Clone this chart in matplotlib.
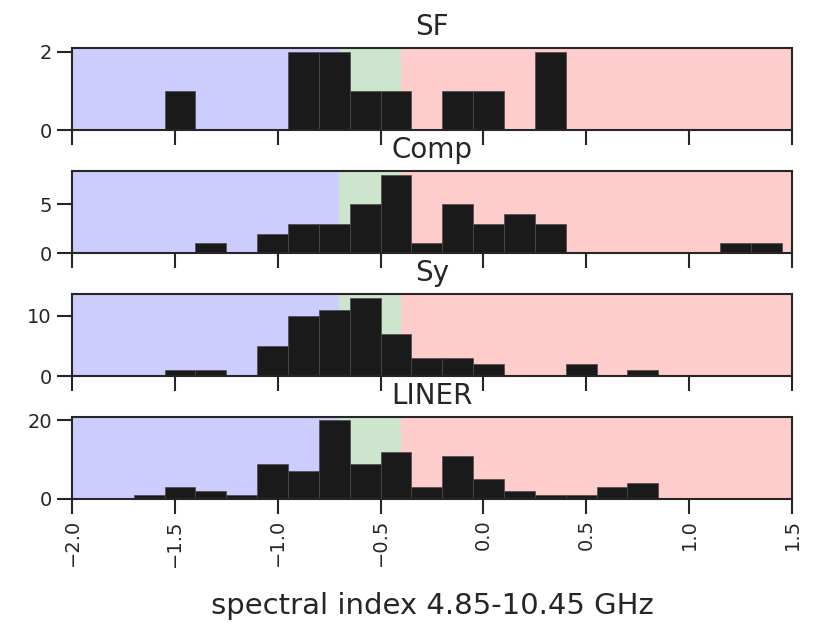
import matplotlib

matplotlib.use("Agg")
import matplotlib.pyplot as plt
import numpy as np

# histogram bin edges, width 0.15
BIN_EDGES = [-2.0, -1.85, -1.7, -1.55, -1.4, -1.25, -1.1, -0.95, -0.8, -0.65, -0.5,
             -0.35, -0.2, -0.05, 0.1, 0.25, 0.4, 0.55, 0.7, 0.85, 1.0, 1.15, 1.3, 1.45]

CLASSES = ["SF", "Comp", "Sy", "LINER"]
SF_COUNTS = [0, 0, 0, 1, 0, 0, 0, 2, 2, 1, 1, 0, 1, 1, 0, 2, 0, 0, 0, 0, 0, 0, 0]
COMP_COUNTS = [0, 0, 0, 0, 1, 0, 2, 3, 3, 5, 8, 1, 5, 3, 4, 3, 0, 0, 0, 0, 0, 1, 1]
SY_COUNTS = [0, 0, 0, 1, 1, 0, 5, 10, 11, 13, 7, 3, 3, 2, 0, 0, 2, 0, 1, 0, 0, 0, 0]
LINER_COUNTS = [0, 0, 1, 3, 2, 1, 9, 7, 20, 9, 12, 3, 11, 5, 2, 1, 1, 3, 4, 0, 0, 0, 0]
YTICKS = [[0, 2], [0, 5], [0, 10], [0, 20]]

# spectral-index regimes shaded behind the bars
REGIONS = [(-2.0, -0.7, "blue"), (-0.7, -0.4, "green"), (-0.4, 1.5, "red")]
XTICKS = [-2.0, -1.5, -1.0, -0.5, 0.0, 0.5, 1.0, 1.5]

plt.rcParams.update({
    "font.family": "DejaVu Sans",
    "text.color": ".15",
    "axes.labelcolor": ".15",
    "xtick.color": ".15",
    "ytick.color": ".15",
    "axes.edgecolor": ".15",
    "axes.linewidth": 1.5,
})

fig, axes = plt.subplots(4, 1, figsize=(8.25, 6.34), dpi=100, sharex=True)
fig.subplots_adjust(left=0.0873, right=0.96, top=0.9243, bottom=0.213, hspace=0.49)

edges = np.array(BIN_EDGES)
centers = 0.5 * (edges[:-1] + edges[1:])

for ax, name, counts, yt in zip(
    axes, CLASSES, [SF_COUNTS, COMP_COUNTS, SY_COUNTS, LINER_COUNTS], YTICKS
):
    for x0, x1, c in REGIONS:
        ax.axvspan(x0, x1, color=c, alpha=0.2, linewidth=0, zorder=0)
    ax.hist(centers, bins=edges, weights=counts, color="#1a1a1a",
            edgecolor="#4a4a4a", linewidth=0.5, zorder=2)
    ax.set_title(name, fontsize=20, pad=9)
    ax.set_yticks(yt)
    ax.set_xlim(-2.0, 1.5)
    ax.tick_params(axis="both", direction="out", length=11, width=1.5, labelsize=14)

axes[-1].set_xticks(XTICKS)
axes[-1].tick_params(axis="x", labelrotation=90)
axes[-1].set_xlabel("spectral index 4.85-10.45 GHz", fontsize=21, labelpad=18)

fig.savefig("out.png", dpi=100, facecolor="white")
